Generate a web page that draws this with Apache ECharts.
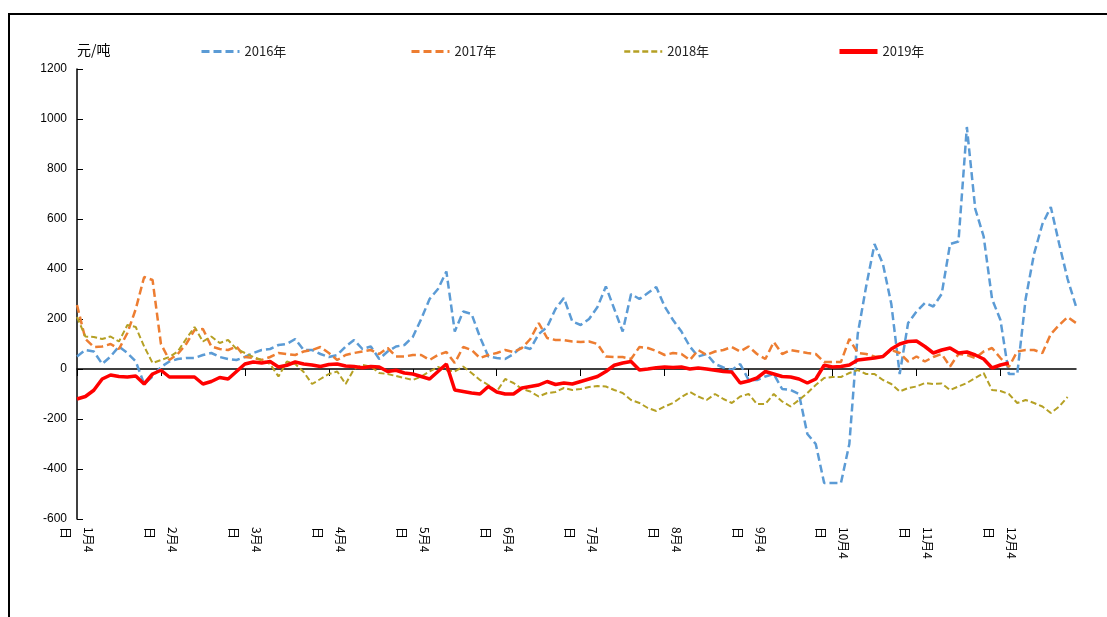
<!DOCTYPE html>
<html>
<head>
<meta charset="utf-8">
<script src="https://cdn.jsdelivr.net/npm/echarts@6/dist/echarts.min.js"></script>
<style>
  html, body { margin: 0; padding: 0; background: #fff; }
  #chart { width: 1107px; height: 617px; }
</style>
</head>
<body>
<div id="chart"></div>
<script>
// 10 sample points per month, label on the first one of each month
const MONTHS = [1, 2, 3, 4, 5, 6, 7, 8, 9, 10, 11, 12]
const DAYS = [4, 7, 9, 12, 15, 17, 20, 22, 25, 27]
const categories = []
MONTHS.forEach(m => DAYS.forEach(d => categories.push(m + '月' + d + '日')))

const yTicks = { min: -600, max: 1200, interval: 200 }
const seriesNames = ['2016年', '2017年', '2018年', '2019年']

const s2016 = [
  50, 76, 70, 20, 50, 90, 64, 30, -60, -30,
  8, 30, 40, 44, 44, 56, 64, 48, 40, 36,
  48, 64, 76, 80, 96, 100, 120, 76, 76, 60,
  48, 56, 90, 116, 80, 90, 40, 70, 90, 96,
  128, 200, 280, 320, 390, 150, 230, 220, 128, 50,
  44, 40, 60, 90, 80, 140, 168, 240, 284, 190,
  176, 200, 248, 330, 240, 150, 300, 280, 304, 328,
  250, 196, 150, 90, 50, 60, 20, 6, -4, 20,
  -44, -44, -30, -20, -80, -84, -100, -260, -300, -456,
  -456, -456, -300, 140, 330, 500, 420, 260, -20, 184,
  230, 264, 250, 300, 500, 510, 968, 640, 530, 280,
  196, -20, -20, 280, 460, 580, 648, 500, 360, 250
]
const s2017 = [
  256, 120, 88, 90, 100, 80, 144, 240, 368, 356,
  100, 36, 60, 100, 156, 160, 90, 80, 76, 90,
  48, 44, 36, 48, 64, 60, 56, 70, 76, 88,
  64, 36, 56, 64, 70, 76, 60, 84, 50, 50,
  56, 56, 36, 56, 68, 24, 88, 76, 44, 56,
  64, 76, 68, 84, 120, 184, 124, 116, 116, 110,
  108, 110, 100, 50, 48, 48, 40, 88, 84, 72,
  56, 64, 60, 36, 76, 56, 70, 76, 88, 70,
  90, 60, 40, 108, 60, 76, 70, 64, 60, 28,
  28, 28, 120, 64, 60, 50, 48, 76, 64, 30,
  50, 30, 48, 60, 10, 60, 56, 44, 70, 84,
  44, 8, 70, 76, 76, 64, 140, 176, 208, 184
]
const s2018 = [
  208, 130, 128, 120, 130, 110, 176, 168, 90, 24,
  36, 48, 70, 120, 168, 110, 130, 104, 116, 80,
  64, 48, 36, 20, -30, 30, 20, -12, -60, -40,
  -20, -10, -60, 0, 16, 10, -16, -20, -28, -36,
  -44, -30, -10, 8, -5, -10, 10, -16, -44, -64,
  -90, -40, -56, -80, -90, -110, -96, -92, -76, -84,
  -80, -72, -68, -70, -84, -96, -124, -136, -156, -168,
  -150, -136, -112, -92, -110, -124, -100, -120, -136, -110,
  -100, -140, -140, -100, -130, -150, -124, -96, -64, -36,
  -32, -32, -16, -4, -20, -20, -44, -60, -90, -76,
  -70, -56, -60, -58, -84, -70, -56, -36, -16, -84,
  -88, -100, -136, -124, -136, -150, -176, -150, -112
]
const s2019 = [
  -120, -110, -85, -40, -24, -30, -32, -28, -60, -20,
  -5, -32, -32, -32, -32, -60, -50, -34, -40, -10,
  20, 28, 24, 30, 8, 15, 28, 20, 16, 10,
  18, 20, 12, 10, 5, 10, 8, -10, -5, -16,
  -20, -30, -40, -10, 20, -84, -90, -96, -100, -70,
  -92, -100, -100, -76, -70, -64, -50, -62, -56, -60,
  -50, -40, -30, -10, 15, 24, 30, -4, 0, 5,
  8, 6, 8, 0, 4, 0, -5, -10, -12, -56,
  -48, -36, -10, -20, -30, -32, -40, -56, -40, 15,
  8, 10, 16, 36, 40, 44, 50, 80, 100, 110,
  112, 90, 64, 76, 84, 64, 68, 56, 40, 4,
  16, 24
]

const colors = ['#5b9bd5', '#ed7d31', '#b5a024', '#ff0000']
const cjk = '"Noto Sans CJK SC", sans-serif'

const chart = echarts.init(document.getElementById('chart'))

const makeLine = (name, data, color, width, dash) => ({
  name,
  type: 'line',
  xAxisIndex: 0,
  data,
  symbol: 'none',
  animation: false,
  itemStyle: { color },
  lineStyle: { color, width, type: dash }
})

// one legend per item so each sits where the original has it
const legendAt = (name, left, lineWidth) => ({
  data: [name],
  left,
  top: 40,
  itemWidth: 38,
  itemHeight: 12,
  itemGap: 0,
  itemStyle: { opacity: 0 },
  lineStyle: { width: lineWidth },
  textStyle: { fontFamily: cjk, fontSize: 13, color: '#222' }
})

chart.setOption({
  animation: false,
  legend: [
    legendAt(seriesNames[0], 195, 3),
    legendAt(seriesNames[1], 405, 3),
    legendAt(seriesNames[2], 618, 2.5),
    legendAt(seriesNames[3], 832, 5)
  ],
  grid: { left: 77, right: 31, top: 69, bottom: 98 },
  graphic: [{
    type: 'rect',
    shape: { x: 9, y: 14, width: 1200, height: 700 },
    style: { fill: 'none', stroke: '#000', lineWidth: 2 },
    silent: true
  }],
  xAxis: [
    {
      type: 'category',
      data: categories,
      boundaryGap: false,
      position: 'bottom',
      axisLine: { onZero: true, lineStyle: { color: '#000', width: 1.5 } },
      axisTick: { interval: (i) => i % 10 === 0, length: 7, lineStyle: { color: '#000' } },
      axisLabel: { show: false },
      splitLine: { show: false }
    },
    {
      type: 'category',
      data: categories,
      boundaryGap: false,
      position: 'bottom',
      axisLine: { show: false, onZero: false },
      axisTick: { show: false },
      axisLabel: {
        interval: (i) => i % 10 === 0,
        rotate: -90,
        margin: 8,
        fontFamily: cjk,
        fontSize: 12,
        color: '#000',
        lineHeight: 23,
        formatter: (v) => v.replace('日', '\n日')
      },
      splitLine: { show: false }
    }
  ],
  yAxis: {
    type: 'value',
    min: yTicks.min,
    max: yTicks.max,
    interval: yTicks.interval,
    name: '元/吨',
    nameLocation: 'end',
    nameGap: 12,
    nameTextStyle: { fontFamily: cjk, fontSize: 14, color: '#000', align: 'left' },
    axisLine: { show: true, lineStyle: { color: '#000', width: 1.5 } },
    axisTick: { show: true, inside: true, length: 6, lineStyle: { color: '#000' } },
    axisLabel: {
      fontFamily: '"Liberation Sans", Arial, sans-serif',
      fontSize: 12,
      color: '#000',
      margin: 10,
      formatter: (v) => String(v)
    },
    splitLine: { show: false }
  },
  series: [
    makeLine(seriesNames[0], s2016, colors[0], 2.5, [8, 4]),
    makeLine(seriesNames[1], s2017, colors[1], 2.5, [8, 4]),
    makeLine(seriesNames[2], s2018, colors[2], 2, [6, 3]),
    makeLine(seriesNames[3], s2019, colors[3], 3.5, 'solid')
  ]
})
</script>
</body>
</html>
